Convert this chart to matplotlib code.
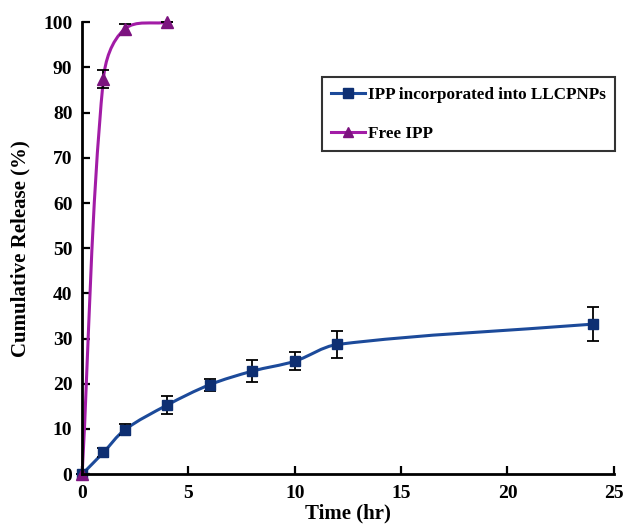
import matplotlib
matplotlib.use("Agg")
import matplotlib.pyplot as plt
import numpy as np
from matplotlib.path import Path
from matplotlib.patches import PathPatch
from matplotlib.lines import Line2D

# ── data ─────────────────────────────────────────────────────────────
time_np = [0, 1, 2, 4, 6, 8, 10, 12, 24]
release_np = [0, 4.8, 9.8, 15.3, 19.8, 22.8, 25.0, 28.7, 33.2]
err_np = [0, 1.0, 1.2, 2.0, 1.3, 2.5, 2.0, 3.0, 3.7]

time_free = [0, 1, 2, 4]
release_free = [0, 87.5, 98.5, 100.0]
err_free = [0, 2.0, 1.2, 0]

label_np = "IPP incorporated into LLCPNPs"
label_free = "Free IPP"

BLUE_LINE = "#1c4a9a"
BLUE_MARK = "#0e2f72"
PURPLE_LINE = "#a21ca6"
PURPLE_MARK = "#7c137f"

plt.rcParams.update({
    "font.family": ["Liberation Serif", "DejaVu Serif"],
    "font.weight": "bold",
    "font.size": 12,
})


def smooth_path(ax, xs, ys):
    """Excel-like smoothed line, built in screen space as cubic Beziers
    whose handles are a third of each segment, along the local tangent."""
    pts = ax.transData.transform(np.column_stack([xs, ys]).astype(float))
    n = len(pts)
    tang = []
    for i in range(n):
        a = pts[max(i - 1, 0)]
        b = pts[min(i + 1, n - 1)]
        v = b - a
        tang.append(v / np.hypot(*v))
    verts = [pts[0]]
    codes = [Path.MOVETO]
    for i in range(n - 1):
        p1, p2 = pts[i], pts[i + 1]
        d = np.hypot(*(p2 - p1)) / 3
        verts += [p1 + tang[i] * d, p2 - tang[i + 1] * d, p2]
        codes += [Path.CURVE4] * 3
    verts = ax.transData.inverted().transform(np.array(verts))
    return Path(verts, codes)


fig = plt.figure(figsize=(6.27, 5.31), dpi=100)
ax = fig.add_axes([0.131, 0.107, 0.848, 0.851])
ax.set_xlim(0, 25)
ax.set_ylim(0, 100)

for xs, ys, col in [(time_np, release_np, BLUE_LINE),
                    (time_free, release_free, PURPLE_LINE)]:
    ax.add_patch(PathPatch(smooth_path(ax, xs, ys), facecolor="none",
                           edgecolor=col, lw=2.2, zorder=2, clip_on=False))

ax.errorbar(time_np, release_np, yerr=err_np, fmt="s", ms=7.5,
            color=BLUE_MARK, ecolor="black", elinewidth=1.3, capsize=4,
            capthick=1.3, zorder=3, clip_on=False)
ax.errorbar(time_free, release_free, yerr=err_free, fmt="^", ms=8.5,
            color=PURPLE_MARK, ecolor="black", elinewidth=1.3, capsize=4,
            capthick=1.3, zorder=3, clip_on=False)

ax.set_xticks(range(0, 26, 5))
ax.set_yticks(range(0, 101, 10))
ax.tick_params(direction="in", length=6, width=1.6, labelsize=14)
ax.tick_params(axis="x", pad=8)
ax.tick_params(axis="y", pad=7)
for s in ["top", "right"]:
    ax.spines[s].set_visible(False)
for s in ["left", "bottom"]:
    ax.spines[s].set_linewidth(2.0)
    ax.spines[s].set_zorder(4)

ax.set_xlabel("Time (hr)", fontsize=15, fontweight="bold", labelpad=1)
ax.set_ylabel("Cumulative Release (%)", fontsize=15, fontweight="bold",
              labelpad=9)

handles = [
    Line2D([], [], color=BLUE_LINE, lw=2.2, marker="s", ms=6.5,
           markerfacecolor=BLUE_MARK, markeredgecolor=BLUE_MARK),
    Line2D([], [], color=PURPLE_LINE, lw=2.2, marker="^", ms=7,
           markerfacecolor=PURPLE_MARK, markeredgecolor=PURPLE_MARK),
]
leg = ax.legend(handles, [label_np, label_free], loc="upper left",
                bbox_to_anchor=(0.451, 0.878), borderaxespad=0,
                fontsize=12.3, frameon=True, fancybox=False,
                edgecolor="black", handlelength=2.0, handletextpad=0.15,
                labelspacing=1.35, borderpad=0.55)
leg.get_frame().set_linewidth(1.5)

fig.savefig("out.png", dpi=100, facecolor="white")
